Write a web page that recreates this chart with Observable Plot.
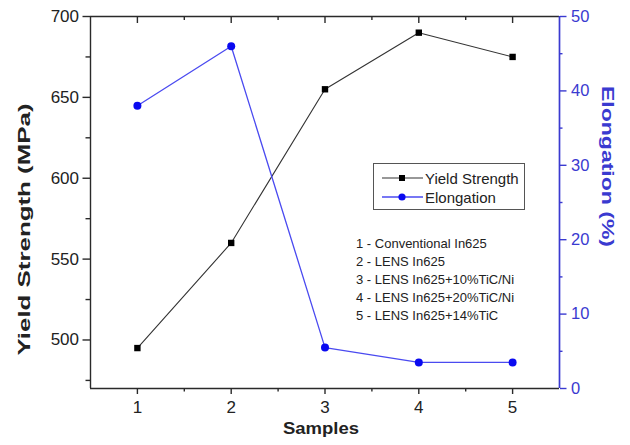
<!DOCTYPE html>
<html>
<head>
<meta charset="utf-8">
<script src="https://cdn.jsdelivr.net/npm/d3@7"></script>
<script src="https://cdn.jsdelivr.net/npm/@observablehq/plot@0.6"></script>
<style>
  html, body { margin: 0; padding: 0; background: #fff; }
  #wrap { position: relative; width: 630px; height: 445px; font-family: "Liberation Sans", Arial, sans-serif; }
  #legend { position: absolute; left: 373px; top: 163px; width: 152px; height: 47px; border: 1px solid #555; box-sizing: border-box; background: #fff; font-size: 15px; color: #222; }
  .lrow { position: absolute; left: 8px; height: 18px; display: flex; align-items: center; white-space: nowrap; }
  .lrow svg { margin-right: 2px; }
  #notes { position: absolute; left: 356px; top: 235px; font-size: 13px; line-height: 17.9px; color: #222; white-space: nowrap; }
</style>
</head>
<body>
<div id="wrap"></div>
<script>
const samples = [1, 2, 3, 4, 5];
const yieldStrength = [495, 560, 655, 690, 675];
const elongation = [38, 46, 5.5, 3.5, 3.5];
const sampleNames = ["Conventional In625", "LENS In625", "LENS In625+10%TiC/Ni", "LENS In625+20%TiC/Ni", "LENS In625+14%TiC"];
const leftTicks = [500, 550, 600, 650, 700];
const leftMinor = [475, 525, 575, 625, 675];
const rightTicks = [0, 10, 20, 30, 40, 50];
const rightMinor = [5, 15, 25, 35, 45];
const xMinor = [1.5, 2.5, 3.5, 4.5];

const yDom = [470, 700];
const eDom = [0, 50];
const eToY = e => yDom[0] + (e - eDom[0]) * (yDom[1] - yDom[0]) / (eDom[1] - eDom[0]);
const yToE = y => eDom[0] + (y - yDom[0]) * (eDom[1] - eDom[0]) / (yDom[1] - yDom[0]);

const ysData = samples.map((s, i) => ({s, v: yieldStrength[i]}));
const elData = samples.map((s, i) => ({s, v: eToY(elongation[i])}));

const BLUE = "#3a3ad0";
const PT = "#0a0af0";
const AX = "#2a2a2a";
const TW = 1.4;

const W = 630, H = 445, ML = 90, MR = 71, MT = 16, MB = 57;
const FW = W - ML - MR, FH = H - MT - MB;

const chart = Plot.plot({
  width: W,
  height: H,
  marginLeft: ML,
  marginRight: MR,
  marginTop: MT,
  marginBottom: MB,
  style: {fontFamily: "'Liberation Sans', Arial, sans-serif", fontSize: "16px", color: "#222", background: "#fff"},
  x: {domain: [0.5, 5.5], axis: null},
  y: {domain: yDom, axis: null},
  marks: [
    // frame lines
    Plot.ruleY([yDom[0]], {stroke: AX, strokeWidth: 1.4}),
    Plot.ruleY([yDom[1]], {stroke: AX, strokeWidth: 1.4}),
    Plot.ruleX([0.5], {stroke: AX, strokeWidth: 1.4}),
    // bottom axis
    Plot.axisX({anchor: "bottom", ticks: samples, tickSize: 6, tickPadding: 6, tickFormat: d => d, label: null, stroke: AX, strokeWidth: TW, fontSize: 17}),
    Plot.tickX(xMinor, {x: d => d, insetTop: FH - 3.5, dy: 3.5, stroke: AX, strokeWidth: TW}),
    // top inner ticks
    Plot.tickX(samples, {x: d => d, insetBottom: FH - 7, stroke: AX, strokeWidth: TW}),
    Plot.tickX(xMinor, {x: d => d, insetBottom: FH - 4, stroke: AX, strokeWidth: TW}),
    // left axis
    Plot.axisY({anchor: "left", ticks: leftTicks, tickSize: 7.5, tickPadding: 4, label: null, stroke: AX, strokeWidth: TW, fontSize: 17}),
    Plot.tickY(leftMinor, {y: d => d, insetRight: FW - 4.5, dx: -4.5, stroke: AX, strokeWidth: TW}),
    // right axis (elongation)
    Plot.ruleX([5.5], {stroke: BLUE, strokeWidth: 1.7}),
    Plot.axisY({anchor: "right", ticks: rightTicks.map(eToY), tickSize: 6.5, tickPadding: 5, tickFormat: d => Math.round(yToE(d)), label: null, stroke: BLUE, strokeWidth: TW, fill: BLUE, color: BLUE, fontSize: 16.5}),
    Plot.tickY(rightMinor.map(eToY), {y: d => d, insetLeft: FW - 3.5, dx: 3.5, stroke: BLUE, strokeWidth: TW}),
    // series
    Plot.line(ysData, {x: "s", y: "v", stroke: "#333", strokeWidth: 1.1}),
    Plot.dot(ysData, {x: "s", y: "v", symbol: "square", r: 3.6, fill: "#000", stroke: "none"}),
    Plot.line(elData, {x: "s", y: "v", stroke: "#4a4af0", strokeWidth: 1.3}),
    Plot.dot(elData, {x: "s", y: "v", r: 4, fill: PT, stroke: "none"}),
    // axis titles
    Plot.text(["Yield Strength (MPa)"], {frameAnchor: "left", textAnchor: "middle", dx: -66, dy: 27, rotate: -90, fontWeight: "bold", fontSize: 17, fill: "#222"}),
    Plot.text(["Elongation (%)"], {frameAnchor: "right", textAnchor: "middle", dx: 48, dy: -36, rotate: 90, fontWeight: "bold", fontSize: 17, fill: BLUE}),
    Plot.text(["Samples"], {frameAnchor: "bottom", dx: -4, dy: 45, fontWeight: "bold", fontSize: 17, fill: "#222"})
  ]
});

// stretch the titles to the reference's lengths
const stretch = {"Yield Strength (MPa)": 252, "Elongation (%)": 161, "Samples": 76};
chart.querySelectorAll("text").forEach(t => {
  const k = t.textContent.trim();
  if (stretch[k]) {
    t.setAttribute("textLength", stretch[k]);
    t.setAttribute("lengthAdjust", "spacingAndGlyphs");
  }
});

const wrap = document.getElementById("wrap");
wrap.appendChild(chart);

const legend = document.createElement("div");
legend.id = "legend";
legend.innerHTML = `
  <div class="lrow" style="top:5px"><svg width="41" height="10"><line x1="0" y1="5" x2="41" y2="5" stroke="#333" stroke-width="1.1"/><rect x="17" y="2" width="6" height="6" fill="#000"/></svg>Yield Strength</div>
  <div class="lrow" style="top:24px"><svg width="41" height="10"><line x1="0" y1="5" x2="41" y2="5" stroke="#4a4af0" stroke-width="1.3"/><circle cx="20" cy="5" r="3.6" fill="${PT}"/></svg>Elongation</div>`;
wrap.appendChild(legend);

const notes = document.createElement("div");
notes.id = "notes";
notes.innerHTML = samples.map((s, i) => `${s} - ${sampleNames[i]}`).join("<br>");
wrap.appendChild(notes);
</script>
</body>
</html>
